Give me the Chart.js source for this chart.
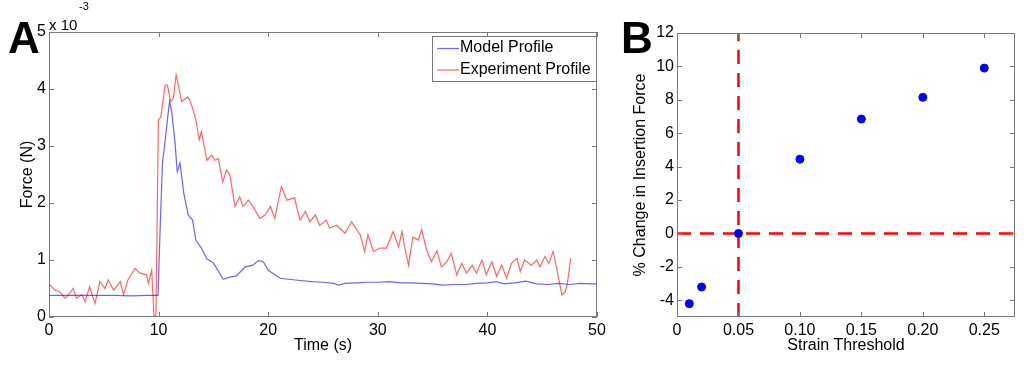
<!DOCTYPE html>
<html>
<head>
<meta charset="utf-8">
<script src="https://cdn.jsdelivr.net/npm/chart.js@4.4.1/dist/chart.umd.min.js"></script>
<style>
body{margin:0;background:#fff;width:1024px;height:366px;overflow:hidden;position:relative;font-family:"Liberation Sans",Arial,sans-serif;}
.wrap{position:absolute;top:0;height:366px;}
#wrapA{left:0;width:610px;}
#wrapB{left:610px;width:414px;}
.panel{position:absolute;font-weight:bold;font-size:44px;line-height:1;color:#000;}
.mult{position:absolute;line-height:1;color:#000;white-space:nowrap;}
</style>
</head>
<body>
<div class="wrap" id="wrapA"><canvas id="chartA" width="610" height="366"></canvas></div>
<div class="wrap" id="wrapB"><canvas id="chartB" width="414" height="366"></canvas></div>
<div class="panel" style="left:8px;top:16px;">A</div>
<div class="panel" style="left:621px;top:16px;">B</div>
<div class="mult" style="left:49px;top:17px;font-size:15px;">x 10</div>
<div class="mult" style="left:79px;top:1px;font-size:11px;">-3</div>
<script>
// Panel A: force profiles (force in units of 10^-3 N)
const seriesNames = ['Model Profile', 'Experiment Profile'];
const timeModel = [0, 3, 6, 7.5, 9, 9.95, 10.15, 10.35, 10.6, 10.8, 11.0, 11.2, 11.5, 11.7, 11.95, 12.3, 12.7, 13.1, 13.4, 13.9, 14.4, 15.0, 15.9, 16.5, 17.1, 17.9, 18.6, 19.1, 19.55, 20.0, 21.1, 22.9, 24, 25, 26, 26.4, 27, 28, 29, 30, 31.1, 32, 33, 34, 35, 35.9, 37, 38, 39, 40, 40.8, 41.5, 42.5, 43.5, 44.5, 45.5, 46.5, 47.5, 48.5, 49.5, 50];
const forceModel = [0.38, 0.38, 0.38, 0.37, 0.38, 0.38, 1.6, 2.7, 3.1, 3.45, 3.78, 3.6, 3.05, 2.55, 2.70, 2.17, 1.79, 1.70, 1.35, 1.21, 1.02, 0.95, 0.66, 0.70, 0.72, 0.88, 0.91, 0.99, 0.97, 0.82, 0.68, 0.64, 0.62, 0.61, 0.59, 0.56, 0.59, 0.60, 0.61, 0.61, 0.62, 0.60, 0.60, 0.59, 0.58, 0.56, 0.57, 0.57, 0.59, 0.60, 0.62, 0.58, 0.60, 0.63, 0.58, 0.57, 0.59, 0.57, 0.59, 0.58, 0.58];
const timeExp = [0.0, 0.1, 0.55, 1.0, 1.46, 1.9, 2.2, 2.5, 3.0, 3.3, 3.7, 4.2, 4.65, 5.1, 5.4, 5.9, 6.5, 6.8, 7.2, 7.85, 8.3, 8.9, 9.06, 9.37, 9.58, 9.76, 9.98, 10.2, 10.6, 10.8, 11.1, 11.35, 11.6, 11.8, 12.1, 12.3, 12.65, 12.9, 13.2, 13.4, 13.7, 13.9, 14.4, 14.85, 15.15, 15.45, 15.85, 16.2, 16.5, 16.97, 17.4, 17.7, 18.2, 18.6, 19.25, 19.7, 20.2, 20.6, 21.2, 21.7, 22.4, 22.9, 23.4, 23.8, 24.3, 24.7, 25.3, 25.6, 26.25, 27.0, 27.6, 28.4, 28.8, 29.1, 29.6, 30.2, 30.8, 31.4, 31.9, 32.2, 32.5, 32.8, 33.2, 33.7, 34.0, 34.45, 34.9, 35.4, 35.8, 36.3, 36.7, 37.2, 37.65, 38.1, 38.6, 39.0, 39.5, 39.9, 40.4, 40.85, 41.3, 41.75, 42.2, 42.7, 43.0, 43.4, 44.0, 44.5, 44.8, 45.25, 45.6, 46.0, 46.4, 46.8, 47.1, 47.3, 47.6];
const forceExp = [0.58, 0.56, 0.47, 0.44, 0.33, 0.42, 0.50, 0.33, 0.39, 0.27, 0.53, 0.24, 0.62, 0.50, 0.65, 0.47, 0.62, 0.39, 0.65, 0.85, 0.77, 0.74, 0.59, 0.82, 0.0, 0.04, 3.46, 3.51, 4.07, 4.07, 3.78, 3.84, 4.25, 4.07, 3.78, 3.81, 3.86, 3.78, 3.60, 3.46, 3.11, 3.25, 2.75, 2.84, 2.75, 2.78, 2.37, 2.58, 2.49, 1.94, 2.11, 1.94, 2.05, 1.94, 1.73, 1.79, 1.94, 1.73, 2.29, 2.05, 2.09, 1.70, 1.85, 1.67, 1.79, 1.61, 1.70, 1.56, 1.61, 1.47, 1.67, 1.44, 1.15, 1.44, 1.15, 1.21, 1.21, 1.50, 1.23, 1.50, 1.18, 0.91, 1.40, 1.35, 1.53, 1.18, 0.97, 1.16, 0.88, 0.97, 1.12, 0.74, 0.94, 0.77, 0.91, 0.77, 1.0, 0.74, 0.97, 0.71, 0.91, 0.68, 0.94, 1.03, 0.80, 1.0, 0.91, 1.0, 0.88, 1.06, 0.94, 1.15, 0.77, 0.39, 0.44, 0.59, 1.03];
const xTicksA = [0, 10, 20, 30, 40, 50];
const yTicksA = [0, 1, 2, 3, 4, 5];

// Panel B: sensitivity to strain threshold
const strain = [0.01, 0.02, 0.05, 0.10, 0.15, 0.20, 0.25];
const changePct = [-4.2, -3.2, 0, 4.45, 6.85, 8.15, 9.9];
const xTicksB = [0, 0.05, 0.10, 0.15, 0.20, 0.25];
const yTicksB = [-4, -2, 0, 2, 4, 6, 8, 10, 12];
const refStrain = 0.05;
const refChange = 0;

const font = 'Liberation Sans';
const boxColor = '#7a7a7a';

function pairs(xs, ys) {
    return xs.map((v, i) => ({x: v, y: ys[i]}));
}

// matlab style axes box with inward ticks on all four sides
const matlabBox = {
    id: 'matlabBox',
    afterDatasetsDraw(chart) {
        const {ctx, chartArea: {left, right, top, bottom}, scales: {x, y}} = chart;
        ctx.save();
        ctx.strokeStyle = boxColor;
        ctx.lineWidth = 1;
        ctx.strokeRect(left + 0.5, top + 0.5, right - left - 1, bottom - top - 1);
        ctx.beginPath();
        x.ticks.forEach(t => {
            let px = Math.round(x.getPixelForValue(t.value)) + 0.5;
            ctx.moveTo(px, bottom); ctx.lineTo(px, bottom - 5);
            ctx.moveTo(px, top); ctx.lineTo(px, top + 5);
        });
        y.ticks.forEach(t => {
            let py = Math.round(y.getPixelForValue(t.value)) + 0.5;
            ctx.moveTo(left, py); ctx.lineTo(left + 5, py);
            ctx.moveTo(right, py); ctx.lineTo(right - 5, py);
        });
        ctx.stroke();
        ctx.restore();
    }
};

// legend drawn inside the top right corner of panel A
const insideLegend = {
    id: 'insideLegend',
    afterDraw(chart) {
        const {ctx, chartArea: {right, top}} = chart;
        let w = 164, h = 45;
        let x0 = right - w - 1, y0 = top + 4;
        ctx.save();
        ctx.fillStyle = '#fff';
        ctx.fillRect(x0, y0, w, h);
        ctx.strokeStyle = boxColor;
        ctx.lineWidth = 1;
        ctx.strokeRect(x0 + 0.5, y0 + 0.5, w, h);
        ctx.font = '16px "' + font + '"';
        ctx.textBaseline = 'middle';
        chart.data.datasets.forEach((ds, i) => {
            let cy = y0 + 12 + i * 21.5;
            ctx.strokeStyle = ds.borderColor;
            ctx.lineWidth = 1.2;
            ctx.beginPath();
            ctx.moveTo(x0 + 5, cy + 0.5);
            ctx.lineTo(x0 + 27, cy + 0.5);
            ctx.stroke();
            ctx.fillStyle = '#000';
            ctx.fillText(ds.label, x0 + 28, cy);
        });
        ctx.restore();
    }
};

function fixedTicks(list) {
    return function (scale) {
        scale.ticks = list.map(v => ({value: v}));
    };
}

Chart.defaults.font.family = font;
Chart.defaults.color = '#000';

const noGrid = {display: false, drawTicks: false, tickLength: 0};

new Chart(document.getElementById('chartA'), {
    type: 'line',
    data: {
        datasets: [{
            label: seriesNames[0],
            data: pairs(timeModel, forceModel),
            borderColor: 'rgba(0,0,255,0.6)',
            borderWidth: 1.2,
            pointRadius: 0,
            tension: 0
        }, {
            label: seriesNames[1],
            data: pairs(timeExp, forceExp),
            borderColor: 'rgba(255,0,0,0.6)',
            borderWidth: 1.2,
            pointRadius: 0,
            tension: 0
        }]
    },
    options: {
        responsive: false,
        animation: false,
        layout: {padding: {left: 0, right: 13, top: 32, bottom: 0}},
        plugins: {legend: {display: false}, tooltip: {enabled: false}},
        scales: {
            x: {
                type: 'linear', min: 0, max: 50,
                afterBuildTicks: fixedTicks(xTicksA),
                afterFit: s => { s.height = 49; },
                grid: noGrid,
                border: {display: false},
                ticks: {font: {size: 16}, padding: 4, maxRotation: 0},
                title: {display: true, text: 'Time (s)', font: {size: 16}, padding: {bottom: 11}}
            },
            y: {
                type: 'linear', min: 0, max: 5,
                afterBuildTicks: fixedTicks(yTicksA),
                afterFit: s => { s.width = 49; },
                grid: noGrid,
                border: {display: false},
                ticks: {font: {size: 16}, padding: 3},
                title: {display: true, text: 'Force (N)', font: {size: 16}, padding: {top: 18}}
            }
        }
    },
    plugins: [matlabBox, insideLegend]
});

new Chart(document.getElementById('chartB'), {
    type: 'scatter',
    data: {
        datasets: [{
            label: 'Change',
            data: pairs(strain, changePct),
            backgroundColor: '#0000ff',
            borderColor: '#0000ff',
            pointRadius: 4,
            order: 0
        }, {
            type: 'line',
            label: 'Reference strain',
            data: [{x: refStrain, y: -5}, {x: refStrain, y: 12}],
            borderColor: '#ff0000',
            borderWidth: 2.5,
            borderDash: [14, 9],
            pointRadius: 0,
            order: 1
        }, {
            type: 'line',
            label: 'Zero change',
            data: [{x: 0, y: refChange}, {x: 0.275, y: refChange}],
            borderColor: '#ff0000',
            borderWidth: 2.5,
            borderDash: [14, 9],
            pointRadius: 0,
            order: 1
        }]
    },
    options: {
        responsive: false,
        animation: false,
        layout: {padding: {left: 0, right: 9, top: 33, bottom: 0}},
        plugins: {legend: {display: false}, tooltip: {enabled: false}},
        scales: {
            x: {
                type: 'linear', min: 0, max: 0.275,
                afterBuildTicks: fixedTicks(xTicksB),
                afterFit: s => { s.height = 49; },
                grid: noGrid,
                border: {display: false},
                ticks: {font: {size: 16}, padding: 4, maxRotation: 0,
                    callback: v => v === 0 ? '0' : v.toFixed(2)},
                title: {display: true, text: 'Strain Threshold', font: {size: 16}, padding: {bottom: 11}}
            },
            y: {
                type: 'linear', min: -5, max: 12,
                afterBuildTicks: fixedTicks(yTicksB),
                afterFit: s => { s.width = 67; },
                grid: noGrid,
                border: {display: false},
                ticks: {font: {size: 16}, padding: 3},
                title: {display: true, text: '% Change in Insertion Force', font: {size: 16}, padding: {top: 21}}
            }
        }
    },
    plugins: [matlabBox]
});
</script>
</body>
</html>
